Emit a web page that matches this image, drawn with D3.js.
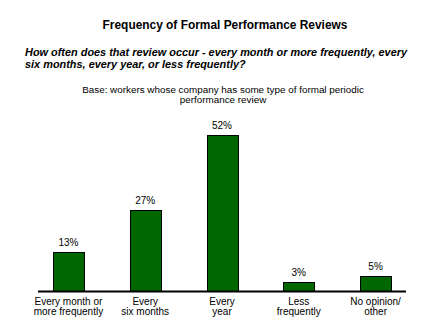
<!DOCTYPE html>
<html>
<head>
<meta charset="utf-8">
<script src="https://cdn.jsdelivr.net/npm/d3@7"></script>
<style>
  html, body { margin: 0; padding: 0; background: #fff; }
  svg { display: block; }
  text { font-family: "Liberation Sans", Arial, sans-serif; fill: #000; }
</style>
</head>
<body>
<svg id="chart" width="440" height="325"></svg>
<script>
const categories = ["Every month or more frequently", "Every six months", "Every year", "Less frequently", "No opinion/ other"];
const categoryLines = [["Every month or", "more frequently"], ["Every", "six months"], ["Every", "year"], ["Less", "frequently"], ["No opinion/", "other"]];
const values = [13, 27, 52, 3, 5];
const valueLabels = ["13%", "27%", "52%", "3%", "5%"];
const title = "Frequency of Formal Performance Reviews";
const questionLines = ["How often does that review occur - every month or more frequently, every", "six months, every year, or less frequently?"];
const baseLines = ["Base: workers whose company has some type of formal periodic", "performance review"];

const svg = d3.select("#chart");
const baseY = 291;

// fit a group's font-size so that its first text measures the target width
function fit(sel, target, startSize) {
  sel.style("font-size", startSize + "px");
  const w = sel.node().getComputedTextLength();
  const size = startSize * target / w;
  sel.style("font-size", size.toFixed(2) + "px");
}

const x = d3.scaleBand().domain(categories).range([30, 414]).paddingInner(0.6).paddingOuter(0.3);
const y = d3.scaleLinear().domain([0, 60]).range([baseY, baseY - 180]);

const t = svg.append("text").attr("x", 225).attr("y", 29).attr("text-anchor", "middle")
  .style("font-weight", "bold").text(title);
fit(t, 245, 13);

const q = svg.append("g").selectAll("text").data(questionLines).join("text")
  .attr("x", 25).attr("y", (d, i) => 56 + i * 11.5)
  .style("font-weight", "bold").style("font-style", "italic")
  .text(d => d);
fit(q, 382, 12);

const b = svg.append("g").selectAll("text").data(baseLines).join("text")
  .attr("x", 223).attr("y", (d, i) => 93 + i * 10)
  .attr("text-anchor", "middle").text(d => d);
fit(b, 282, 10);

svg.append("g").selectAll("rect").data(values).join("rect")
  .attr("x", (d, i) => Math.round(x(categories[i])) + 0.5)
  .attr("y", d => Math.round(y(d)) + 0.5)
  .attr("width", Math.round(x.bandwidth()))
  .attr("height", d => baseY - Math.round(y(d)))
  .attr("fill", "#006600").attr("stroke", "#000").attr("stroke-width", 1);

svg.append("g").selectAll("text").data(values).join("text")
  .attr("x", (d, i) => x(categories[i]) + x.bandwidth() / 2)
  .attr("y", d => y(d) - 6)
  .attr("text-anchor", "middle").style("font-size", "10px")
  .text((d, i) => valueLabels[i]);

svg.append("line").attr("x1", 38).attr("x2", 406).attr("y1", baseY + 0.5).attr("y2", baseY + 0.5)
  .attr("stroke", "#000").attr("stroke-width", 2);

const cat = svg.append("g").selectAll("text").data(categories).join("text")
  .attr("x", d => x(d) + x.bandwidth() / 2)
  .attr("text-anchor", "middle").style("font-size", "10px");
cat.selectAll("tspan").data((d, i) => categoryLines[i]).join("tspan")
  .attr("x", function () { return d3.select(this.parentNode).attr("x"); })
  .attr("y", (d, j) => 305 + j * 10)
  .text(d => d);
</script>
</body>
</html>
